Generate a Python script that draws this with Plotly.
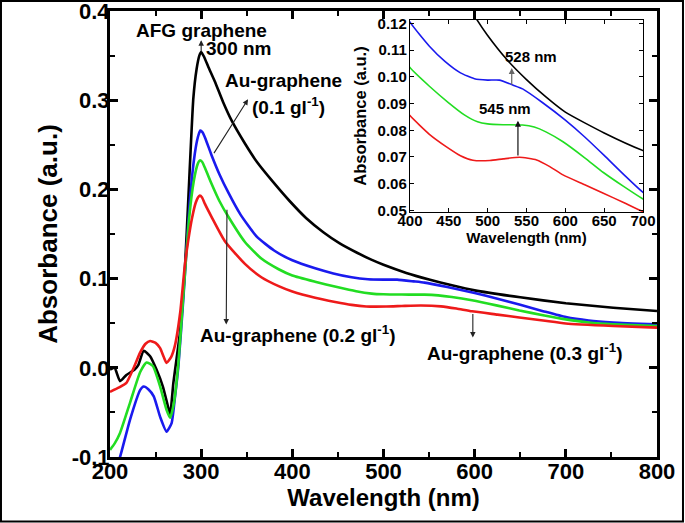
import plotly.graph_objects as go

# ---------------- data ----------------
afg_wl = [200, 205, 211, 218, 227, 231, 237, 244, 251, 258, 264, 266, 269.5, 273, 276.8, 282.3, 285.9,
          291.4, 295, 298, 300, 303, 308, 315, 324, 333.5, 348, 361, 380, 397, 415, 434, 452, 471, 486,
          500, 525, 550, 575, 600, 650, 700, 752, 800]
afg_abs = [-0.002, 0.0, -0.015, -0.008, -0.002, 0.003, 0.019, 0.013, -0.002, -0.021, -0.045, -0.052,
           -0.017, 0.01, 0.04, 0.114, 0.189, 0.302, 0.335, 0.350, 0.354, 0.349, 0.337, 0.321, 0.298, 0.277,
           0.2514, 0.231, 0.207, 0.187, 0.168, 0.152, 0.1395, 0.129, 0.1215, 0.1155, 0.1064, 0.099, 0.0925,
           0.0868, 0.079, 0.0724, 0.0674, 0.0636]

au01_wl = [200, 205, 211, 222, 233, 237, 242, 248, 255, 262, 267.6, 271, 275, 280.4, 287.7, 293, 296.5,
           299, 301.5, 305, 311.5, 320, 330, 343, 361, 380, 400, 425, 445, 465, 483, 500, 515, 533, 545,
           570, 600, 625, 650, 675, 700, 725, 752, 800]
au01_abs = [-0.135, -0.118, -0.1, -0.058, -0.025, -0.021, -0.024, -0.032, -0.055, -0.0715, -0.062, -0.035,
            0.002, 0.077, 0.189, 0.24, 0.259, 0.266, 0.264, 0.256, 0.238, 0.217, 0.196, 0.172, 0.147, 0.1315,
            0.1205, 0.1115, 0.1058, 0.1015, 0.0993, 0.0988, 0.0988, 0.0969, 0.0955, 0.0905, 0.0838, 0.0775,
            0.0706, 0.0635, 0.0568, 0.0530, 0.0508, 0.0487]

au02_wl = [200, 205, 211, 222, 233, 240, 247, 255, 262, 266, 270, 275, 280, 287, 292, 296, 298.5, 301,
           305, 311.5, 320, 330, 348, 366, 385, 400, 425, 449, 470, 487, 500, 520, 545, 560, 575, 597, 625,
           649, 675, 700, 725, 752, 800]
au02_abs = [-0.092, -0.085, -0.073, -0.039, -0.005, 0.006, 0.002, -0.021, -0.047, -0.056, -0.04, 0.005,
            0.075, 0.17, 0.21, 0.228, 0.2325, 0.231, 0.222, 0.206, 0.187, 0.169, 0.141, 0.1225, 0.1105,
            0.1035, 0.0965, 0.0905, 0.0858, 0.0832, 0.0824, 0.0821, 0.0820, 0.0812, 0.0794, 0.0757, 0.0697,
            0.0642, 0.0590, 0.0543, 0.0508, 0.0488, 0.0468]

au03_wl = [200, 210, 218, 226, 233, 239, 244, 250, 255, 259, 262, 267, 271, 277, 282, 286, 290, 294,
           296.5, 298.5, 301, 304, 311.5, 326, 348, 366, 385, 400, 425, 447, 465, 481, 503, 520, 541, 563,
           580, 597, 625, 649, 675, 700, 752, 800]
au03_abs = [-0.027, -0.022, -0.017, 0.0, 0.017, 0.027, 0.030, 0.028, 0.022, 0.012, 0.0055, 0.012, 0.024,
            0.062, 0.114, 0.144, 0.168, 0.185, 0.191, 0.193, 0.191, 0.184, 0.169, 0.142, 0.1165, 0.1015,
            0.0915, 0.0855, 0.0785, 0.0738, 0.0705, 0.0688, 0.0687, 0.0693, 0.0699, 0.0689, 0.0664, 0.0633,
            0.0596, 0.0564, 0.053, 0.0496, 0.0468, 0.045]

main_y_ticks = [-0.1, 0.0, 0.1, 0.2, 0.3, 0.4]
main_y_text = ['-0.1', '0.0', '0.1', '0.2', '0.3', '0.4']
inset_y_ticks = [0.05, 0.06, 0.07, 0.08, 0.09, 0.10, 0.11, 0.12]
inset_y_text = ['0.05', '0.06', '0.07', '0.08', '0.09', '0.10', '0.11', '0.12']

# ---------------- figure ----------------
FONT = "Liberation Sans, Arial, sans-serif"
series = [
    (afg_wl, afg_abs, "#000000"),
    (au01_wl, au01_abs, "#1a1aee"),
    (au02_wl, au02_abs, "#22dd22"),
    (au03_wl, au03_abs, "#ee1a1a"),
]

fig = go.Figure()
for wl, ab, col in series:
    fig.add_trace(go.Scatter(x=wl, y=ab, mode="lines", showlegend=False, hoverinfo="skip",
                             line=dict(color=col, width=2.6, shape="spline", smoothing=0.5),
                             xaxis="x", yaxis="y"))
for wl, ab, col in series:
    fig.add_trace(go.Scatter(x=wl, y=ab, mode="lines", showlegend=False, hoverinfo="skip",
                             line=dict(color=col, width=1.6, shape="spline", smoothing=0.5),
                             xaxis="x2", yaxis="y2"))

bold = dict(family=FONT, color="black", weight="bold")

fig.update_layout(
    width=685, height=523,
    margin=dict(l=110, r=28, t=11, b=66, autoexpand=False),
    paper_bgcolor="white", plot_bgcolor="white",
    font=dict(family=FONT, color="black"),
    xaxis=dict(domain=[0, 1], range=[200, 800], tick0=200, dtick=100, automargin=False,
               showline=True, linewidth=3, linecolor="black", mirror="allticks",
               ticks="inside", ticklen=8, tickwidth=2.5, tickcolor="black", ticklabelstandoff=-7,
               ticklabeloverflow="allow",
               minor=dict(dtick=50, ticks="inside", ticklen=5, tickwidth=2, tickcolor="black"),
               showgrid=False, zeroline=False,
               tickfont=dict(size=22, **bold),
               title=dict(text="Wavelength (nm)", font=dict(size=24, **bold), standoff=2)),
    yaxis=dict(domain=[0, 1], range=[-0.1, 0.4], tickvals=main_y_ticks, ticktext=main_y_text,
               automargin=False, ticklabeloverflow="allow",
               showline=True, linewidth=3, linecolor="black", mirror="allticks",
               ticks="inside", ticklen=8, tickwidth=2.5, tickcolor="black", ticklabelstandoff=-7,
               minor=dict(dtick=0.05, ticks="inside", ticklen=5, tickwidth=2, tickcolor="black"),
               showgrid=False, zeroline=False,
               tickfont=dict(size=22, **bold),
               title=dict(text="Absorbance (a.u.)", font=dict(size=26, **bold), standoff=7)),
    xaxis2=dict(domain=[0.5484, 0.9744], anchor="y2", range=[400, 700], tick0=400, dtick=50,
                automargin=False,
                showline=True, linewidth=1.3, linecolor="black", mirror="allticks",
                ticks="inside", ticklen=4, tickwidth=1, tickcolor="black", ticklabelstandoff=-5,
                showgrid=False, zeroline=False,
                tickfont=dict(size=15, **bold),
                title=dict(text="Wavelength (nm)", font=dict(size=15, **bold), standoff=4)),
    yaxis2=dict(domain=[0.5493, 0.9798], anchor="x2", range=[0.0494, 0.1213],
                tickvals=inset_y_ticks, ticktext=inset_y_text, automargin=False,
                showline=True, linewidth=1.3, linecolor="black", mirror="allticks",
                ticks="inside", ticklen=4, tickwidth=1, tickcolor="black", ticklabelstandoff=-1,
                showgrid=False, zeroline=False,
                tickfont=dict(size=15, **bold),
                title=dict(text="Absorbance (a.u.)", font=dict(size=16.5, **bold), standoff=6)),
)

# outer frame of the picture
fig.add_shape(type="rect", xref="paper", yref="paper", x0=-0.1993, x1=1.0475, y0=-0.1446, y1=1.0224,
              line=dict(color="black", width=2), fillcolor="rgba(0,0,0,0)", layer="above")

afont = dict(size=19, **bold)
ifont = dict(size=15, **bold)
texts_main = [
    ("AFG graphene", 300.4, 0.3786),
    ("300 nm", 341, 0.3585),
    ("Au-graphene", 389.8, 0.3223),
    ("(0.1 gl<sup>-1</sup>)", 395.8, 0.294),
    ("Au-graphene (0.2 gl<sup>-1</sup>)", 405.7, 0.0374),
    ("Au-graphene (0.3 gl<sup>-1</sup>)", 655, 0.0182),
]
for t, x, y in texts_main:
    fig.add_annotation(text=t, x=x, y=y, xref="x", yref="y", showarrow=False, font=afont,
                       xanchor="center", yanchor="middle")

texts_inset = [("528 nm", 556.4, 0.1077), ("545 nm", 522.7, 0.088)]
for t, x, y in texts_inset:
    fig.add_annotation(text=t, x=x, y=y, xref="x2", yref="y2", showarrow=False, font=ifont,
                       xanchor="center", yanchor="middle")

arrows_main = [
    # (tail x, tail y, head x, head y)
    (300, 0.3527, 300, 0.3673),
    (313, 0.239, 351.4, 0.301),
    (328.3, 0.179, 327.5, 0.0486),
    (598, 0.062, 598, 0.034),
]
for x0, y0, x1, y1 in arrows_main:
    fig.add_annotation(x=x1, y=y1, ax=x0, ay=y0, xref="x", yref="y", axref="x", ayref="y",
                       text="", showarrow=True, arrowhead=2, arrowsize=1, arrowwidth=1.1,
                       arrowcolor="#222222")

arrows_inset = [
    (531, 0.0965, 531, 0.1033, "#666666"),
    (539, 0.070, 539, 0.0836, "#111111"),
]
for x0, y0, x1, y1, c in arrows_inset:
    fig.add_annotation(x=x1, y=y1, ax=x0, ay=y0, xref="x2", yref="y2", axref="x2", ayref="y2",
                       text="", showarrow=True, arrowhead=2, arrowsize=1, arrowwidth=1.2,
                       arrowcolor=c)

fig.write_html("out.html", config={"displayModeBar": False},
               post_script="document.body.style.margin='0px';document.body.style.padding='0px';")
